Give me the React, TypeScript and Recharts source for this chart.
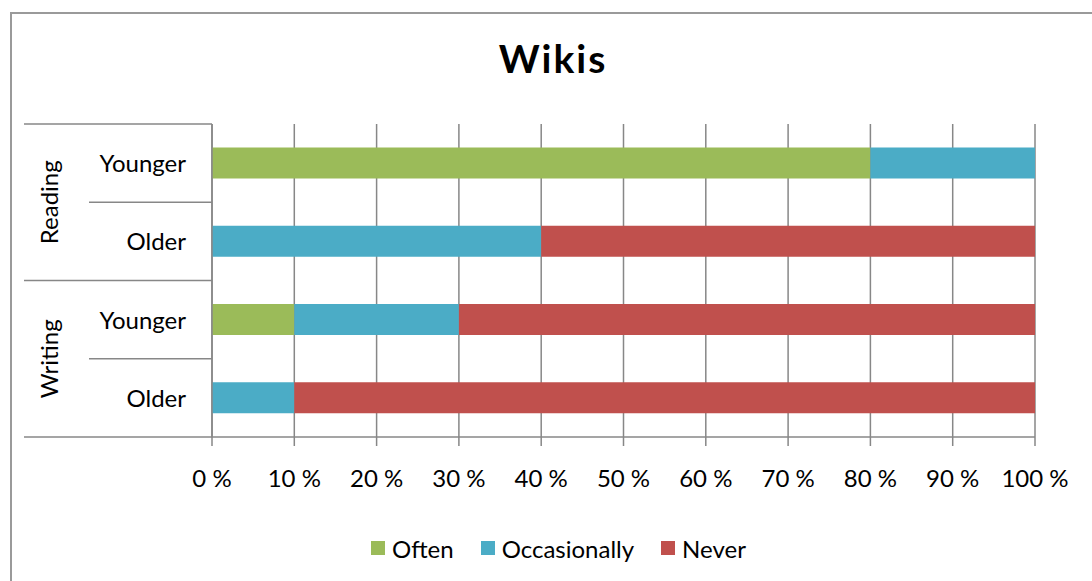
import React from "react";
import { BarChart, Bar, XAxis, YAxis, CartesianGrid, Legend } from "recharts";

const groups = ["Reading", "Writing"];
const categories = ["Younger", "Older", "Younger", "Older"];
const often = [80, 0, 10, 0];
const occasionally = [20, 40, 20, 10];
const never = [0, 60, 70, 90];
const xTicks = [0, 10, 20, 30, 40, 50, 60, 70, 80, 90, 100];
const seriesNames = ["Often", "Occasionally", "Never"];
const seriesColors = ["#9BBB59", "#4BACC6", "#C0504D"];

const data = categories.map((c, i) => ({
  key: `${groups[Math.floor(i / 2)]}-${c}-${i}`,
  often: often[i],
  occasionally: occasionally[i],
  never: never[i],
}));

const W = 1092;
const H = 581;
const LEFT = 24;
const Y_W = 188;
const PLOT_LEFT = LEFT + Y_W;
const SUB_LEFT = 89;
const LINE = "#878787";
const FONT = "Lato, 'Open Sans', sans-serif";
const X_H = 60;
const LEG_H = 30;

const YTick = (props: any) => {
  const { y, payload, index } = props;
  const off = payload && payload.offset ? payload.offset : 0;
  const isGroupStart = index % 2 === 0;
  const isLast = index === categories.length - 1;
  return (
    <g>
      <text x={PLOT_LEFT - 26} y={y + 9} textAnchor="end" fontSize={24} fontFamily={FONT} fill="#000">
        {categories[index]}
      </text>
      <line
        x1={isGroupStart ? LEFT : SUB_LEFT}
        x2={PLOT_LEFT}
        y1={y - off}
        y2={y - off}
        stroke={LINE}
        strokeWidth={1.5}
      />
      {isLast && (
        <line x1={LEFT} x2={PLOT_LEFT} y1={y + off} y2={y + off} stroke={LINE} strokeWidth={1.5} />
      )}
      {isGroupStart && (
        <text
          x={58}
          y={y + off}
          textAnchor="middle"
          fontSize={24}
          fontFamily={FONT}
          fill="#000"
          transform={`rotate(-90, 58, ${y + off})`}
        >
          {groups[index / 2]}
        </text>
      )}
    </g>
  );
};

const LegendContent = () => (
  <div
    style={{
      display: "flex",
      justifyContent: "center",
      alignItems: "center",
      height: LEG_H,
      paddingLeft: 25,
      fontFamily: FONT,
      fontSize: 24,
      color: "#000",
    }}
  >
    {seriesNames.map((n, i) => (
      <div key={n} style={{ display: "flex", alignItems: "center", marginRight: i < seriesNames.length - 1 ? 27 : 0 }}>
        <div style={{ width: 14, height: 14, background: seriesColors[i], marginRight: 7 }} />
        <span>{n}</span>
      </div>
    ))}
  </div>
);

export default function App() {
  return (
    <div style={{ position: "absolute", left: 0, top: 0, width: W, height: H, overflow: "hidden", background: "#fff" }}>
      <div
        style={{
          position: "absolute",
          left: 10,
          top: 12,
          width: W + 20,
          height: H + 20,
          border: "2px solid #9a9a9a",
          boxSizing: "border-box",
        }}
      />
      <div
        style={{
          position: "absolute",
          left: 0,
          width: W,
          top: 35,
          textAlign: "center",
          fontFamily: FONT,
          fontWeight: 700,
          fontSize: 39,
          letterSpacing: 2,
          paddingLeft: 14,
          boxSizing: "border-box",
          color: "#000",
        }}
      >
        Wikis
      </div>
      <div style={{ position: "absolute", left: 0, top: 0 }}>
        <BarChart
          width={W}
          height={H}
          data={data}
          layout="vertical"
          barCategoryGap="30%"
          margin={{ top: 124, right: 57, left: LEFT, bottom: H - 437 - X_H - LEG_H }}
        >
          <CartesianGrid horizontal={false} vertical={true} stroke={LINE} strokeWidth={1.5} />
          <XAxis
            type="number"
            domain={[0, 100]}
            ticks={xTicks}
            height={X_H}
            tickFormatter={(v: number) => `${v} %`}
            tickSize={9}
            tickMargin={24}
            axisLine={{ stroke: LINE, strokeWidth: 1.5 }}
            tickLine={{ stroke: LINE, strokeWidth: 1.5 }}
            tick={{ fontSize: 24, fontFamily: FONT, fill: "#000" }}
            interval={0}
          />
          <YAxis
            type="category"
            dataKey="key"
            width={Y_W}
            axisLine={{ stroke: LINE, strokeWidth: 1.5 }}
            tickLine={false}
            tick={<YTick />}
            interval={0}
          />
          <Legend
            verticalAlign="bottom"
            height={LEG_H}
            wrapperStyle={{ top: 533, left: 0, width: W, height: LEG_H }}
            content={<LegendContent />}
          />
          <Bar dataKey="often" name={seriesNames[0]} stackId="a" fill={seriesColors[0]} isAnimationActive={false} />
          <Bar dataKey="occasionally" name={seriesNames[1]} stackId="a" fill={seriesColors[1]} isAnimationActive={false} />
          <Bar dataKey="never" name={seriesNames[2]} stackId="a" fill={seriesColors[2]} isAnimationActive={false} />
        </BarChart>
      </div>
    </div>
  );
}
